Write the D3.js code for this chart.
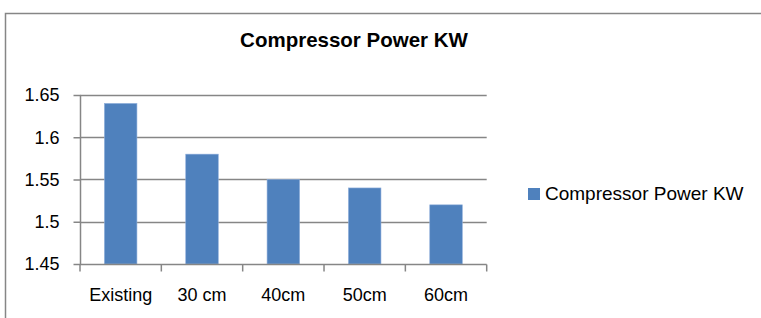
<!DOCTYPE html>
<html>
<head>
<meta charset="utf-8">
<script src="https://cdn.jsdelivr.net/npm/d3@7"></script>
<style>
  html, body { margin: 0; padding: 0; background: #fff; }
  svg { display: block; }
  text { font-family: "Liberation Sans", Arial, sans-serif; fill: #000; }
</style>
</head>
<body>
<svg id="chart" width="761" height="318"></svg>
<script>
const categories = ["Existing", "30 cm", "40cm", "50cm", "60cm"];
const values = [1.64, 1.58, 1.55, 1.54, 1.52];
const yTicks = [1.45, 1.5, 1.55, 1.6, 1.65];
const seriesName = "Compressor Power KW";
const chartTitle = "Compressor Power KW";

(function () {
const svg = d3.select("#chart");
const gray = "#868686";
const barColor = "#4F81BD";

// outer chart border (right/bottom outside the view)
svg.append("rect")
  .attr("x", 5.5).attr("y", 13.5)
  .attr("width", 800).attr("height", 400)
  .attr("fill", "none").attr("stroke", gray).attr("stroke-width", 1.5);

const pLeft = 80, pRight = 486.7, pTop = 95, pBottom = 264;

const x = d3.scaleBand().domain(categories).range([pLeft, pRight])
  .paddingInner(0.6).paddingOuter(0.3);
const y = d3.scaleLinear().domain([1.45, 1.65]).range([pBottom, pTop]);

// gridlines
svg.append("g").selectAll("line").data(yTicks.filter(d => d > 1.45)).join("line")
  .attr("x1", pLeft).attr("x2", pRight)
  .attr("y1", d => Math.round(y(d)) + 0.5).attr("y2", d => Math.round(y(d)) + 0.5)
  .attr("stroke", gray).attr("stroke-width", 1.5);

// bars
svg.append("g").selectAll("rect").data(values).join("rect")
  .attr("x", (d, i) => x(categories[i]))
  .attr("width", x.bandwidth())
  .attr("y", d => y(d))
  .attr("height", d => pBottom - y(d))
  .attr("fill", barColor)
  .attr("stroke", "#8eaedb").attr("stroke-width", 0.6);

// y axis
const yAxis = svg.append("g").attr("transform", `translate(${pLeft + 0.5},0)`)
  .call(d3.axisLeft(y).tickValues(yTicks).tickSize(7).tickPadding(14)
    .tickFormat(d => String(+d.toFixed(2))));
yAxis.select(".domain").attr("stroke", gray).attr("stroke-width", 1.5)
  .attr("d", `M0,${pTop}V${pBottom}`);
yAxis.selectAll(".tick line").attr("stroke", gray).attr("stroke-width", 1.5);
yAxis.selectAll("text").attr("font-size", 18).attr("fill", "#000")
  .style("font-family", '"Liberation Sans", Arial, sans-serif');

// x axis
const xAxis = svg.append("g").attr("transform", `translate(0,${pBottom + 0.5})`)
  .call(d3.axisBottom(x).tickSize(0).tickPadding(24));
xAxis.select(".domain").attr("stroke", gray).attr("stroke-width", 1.5)
  .attr("d", `M${pLeft},0H${pRight}`);
xAxis.selectAll("text").attr("font-size", 18).attr("fill", "#000")
  .style("font-family", '"Liberation Sans", Arial, sans-serif');
// boundary ticks
const step = x.step();
const bounds = d3.range(categories.length + 1).map(i => pLeft + i * step);
xAxis.append("g").selectAll("line").data(bounds).join("line")
  .attr("x1", d => d).attr("x2", d => d)
  .attr("y1", 0).attr("y2", 7)
  .attr("stroke", gray).attr("stroke-width", 1.5);

// title
svg.append("text")
  .attr("x", 354).attr("y", 47)
  .attr("text-anchor", "middle")
  .attr("font-size", 20.5).attr("font-weight", "bold")
  .text(chartTitle);

// legend
const lg = svg.append("g");
lg.append("rect").attr("x", 528).attr("y", 188).attr("width", 12).attr("height", 12)
  .attr("fill", barColor);
lg.append("text").attr("x", 545).attr("y", 199.5)
  .attr("font-size", 19).text(seriesName);
})();
</script>
</body>
</html>
